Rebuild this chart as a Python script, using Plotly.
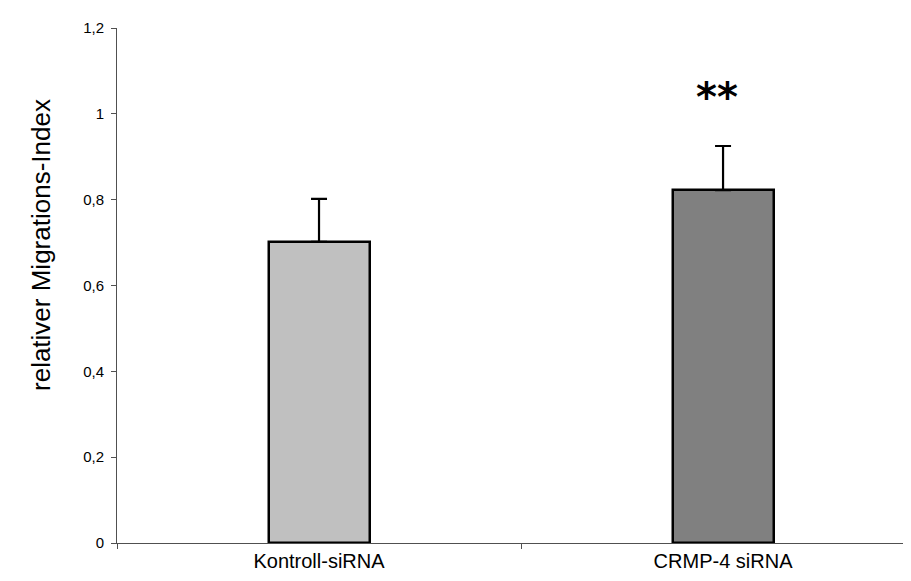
import plotly.graph_objects as go

categories = ["Kontroll-siRNA", "CRMP-4 siRNA"]
values = [0.702, 0.822]
errors_up = [0.100, 0.103]
errors_down = [0.0, 0.0]
bar_colors = ["#C0C0C0", "#808080"]
y_tickvals = [0, 0.2, 0.4, 0.6, 0.8, 1.0, 1.2]
y_ticktext = ["0", "0,2", "0,4", "0,6", "0,8", "1", "1,2"]
y_title = "relativer Migrations-Index"
significance = "**"

FONT = "Arial, Liberation Sans, sans-serif"

fig = go.Figure()
fig.add_trace(go.Bar(
    x=categories,
    y=values,
    width=0.25,
    marker=dict(color=bar_colors, line=dict(color="black", width=2.5)),
    error_y=dict(type="data", symmetric=False, array=errors_up, arrayminus=errors_down,
                 color="black", thickness=2.2, width=8),
    showlegend=False,
))

fig.add_annotation(
    text=y_title, textangle=-90, xref="paper", yref="paper",
    x=-0.0948, y=0.5786, xanchor="center", yanchor="middle",
    showarrow=False, font=dict(family=FONT, size=26, color="black"),
)
fig.add_annotation(
    text="<b>" + significance + "</b>", xref="x", yref="y", x=categories[1], y=1.04,
    xshift=-6, xanchor="center", yanchor="middle", showarrow=False,
    font=dict(family="DejaVu Sans, sans-serif", size=40, color="black"),
)

fig.update_layout(
    width=911, height=581,
    margin=dict(l=109, r=0, t=20, b=46),
    paper_bgcolor="white", plot_bgcolor="white",
    font=dict(family=FONT, color="black"),
    bargap=0,
)
fig.update_xaxes(
    type="category", range=[-0.5, 1.485],
    showline=True, linecolor="#505050", linewidth=1,
    ticks="outside", tickson="boundaries", ticklen=5, tickcolor="#505050",
    tickfont=dict(family=FONT, size=20, color="black"),
    showgrid=False, zeroline=False,
)
fig.update_yaxes(
    range=[0, 1.2], tickvals=y_tickvals, ticktext=y_ticktext,
    showline=True, linecolor="#505050", linewidth=1,
    ticks="outside", ticklen=5, tickcolor="#505050",
    tickfont=dict(family=FONT, size=15, color="black"),
    ticklabelstandoff=4,
    showgrid=False, zeroline=False,
)

fig.write_html("out.html")
